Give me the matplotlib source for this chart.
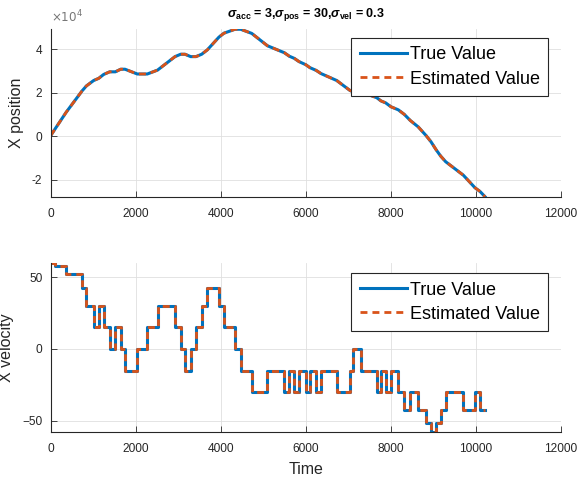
"""
Kalman filter tracking result: true vs estimated X position / velocity.
"""
import matplotlib
matplotlib.use("Agg")
import matplotlib.pyplot as plt
from matplotlib.ticker import FuncFormatter

# time stamps where the motion changes
times = [0, 110, 365, 738, 840, 1011, 1130, 1247, 1388, 1521, 1647, 1748,
         2038, 2273, 2515, 2925, 3059, 3160, 3294, 3419, 3553, 3685, 3960,
         4078, 4337, 4471, 4730, 5100, 5497, 5614, 5732, 5843, 6000, 6102,
         6243, 6360, 6730, 7043, 7106, 7302, 7670, 7772, 7882, 8007, 8179,
         8320, 8461, 8650, 8830, 8948, 9066, 9176, 9294, 9709, 9984, 10102,
         10219]

# X position at those times (x 1e4)
true_pos = [0.02, 0.35, 1.10, 2.08, 2.31, 2.56, 2.66, 2.84, 2.96, 2.96, 3.08,
            3.08, 2.86, 2.86, 3.04, 3.66, 3.77, 3.77, 3.66, 3.66, 3.77, 3.97,
            4.56, 4.74, 4.92, 4.92, 4.73, 4.16, 3.84, 3.68, 3.58, 3.43, 3.29,
            3.15, 3.03, 2.88, 2.56, 2.10, 2.05, 2.03, 1.77, 1.62, 1.53, 1.35,
            1.21, 1.00, 0.72, 0.42, 0.03, -0.26, -0.62, -0.92, -1.18, -1.80,
            -2.38, -2.55, -2.79]
est_pos = true_pos

# X velocity held from each time stamp until the next one
true_vel = [60.0, 58.0, 52.0, 42.4, 30.0, 15.5, 30.0, 15.5, 0.0, 15.5, 0.0,
            -15.5, 0.0, 15.5, 30.0, 15.5, 0.0, -15.5, 0.0, 15.5, 30.0, 42.4,
            30.0, 15.5, 0.0, -15.5, -30.0, -15.5, -30.0, -15.5, -30.0, -15.5,
            -30.0, -15.5, -30.0, -15.5, -30.0, -15.5, 0.0, -15.5, -30.0, -15.5,
            -30.0, -15.5, -30.0, -42.4, -30.0, -42.4, -52.0, -58.0, -52.0,
            -42.4, -30.0, -42.4, -30.0, -42.4, -42.4]
est_vel = true_vel

BLUE = "#0072BD"
ORANGE = "#D95319"
AXC = "#262626"

plt.rcParams["font.family"] = ["Liberation Sans", "DejaVu Sans"]
plt.rcParams["mathtext.fontset"] = "custom"
plt.rcParams["mathtext.rm"] = "Liberation Sans:bold"
plt.rcParams["mathtext.bf"] = "Liberation Sans:bold"
plt.rcParams["mathtext.it"] = "Liberation Sans:italic:bold"

fig = plt.figure(figsize=(5.8, 4.79), dpi=100)
ax1 = fig.add_axes([0.0874, 0.5894, 0.8793, 0.3495])
ax2 = fig.add_axes([0.0874, 0.0981, 0.8793, 0.3534])


def style(ax, yticks):
    for s in ("top", "right"):
        ax.spines[s].set_visible(False)
    for s in ("left", "bottom"):
        ax.spines[s].set_color(AXC)
        ax.spines[s].set_linewidth(0.8)
    ax.set_xlim(0, 12000)
    ax.set_xticks(range(0, 12001, 2000))
    ax.set_yticks(yticks)
    ax.tick_params(direction="in", length=4, width=0.6, colors=AXC,
                   labelsize=8.6, pad=6)
    ax.tick_params(axis="x", pad=8)
    ax.grid(True, color="#dfdfdf", linewidth=0.6)
    ax.set_axisbelow(True)


# top panel: position
ax1.plot(times, [v * 1e4 for v in true_pos], color=BLUE, lw=2.2,
         label="True Value")
ax1.plot(times, [v * 1e4 for v in est_pos], color=ORANGE, lw=2.0,
         dashes=(2.5, 1.8), label="Estimated Value")
style(ax1, [-2e4, 0, 2e4, 4e4])
ax1.set_ylim(min(true_pos) * 1e4, max(true_pos) * 1e4)
ax1.yaxis.set_major_formatter(FuncFormatter(lambda v, p: f"{v / 1e4:g}"))
ax1.text(0.0, 1.025, r"$\times10^{4}$", transform=ax1.transAxes,
         fontsize=8.6, color="#777777", ha="left", va="bottom",
         math_fontfamily="dejavusans")
ax1.set_ylabel("X position", fontsize=11.5, color=AXC, labelpad=6)
ax1.set_title(r"$\sigma_{\mathrm{acc}}$ = 3,$\sigma_{\mathrm{pos}}$ = 30,"
              r"$\sigma_{\mathrm{vel}}$ = 0.3",
              fontsize=9, fontweight="bold", color="black", pad=9)

# bottom panel: velocity
ax2.step(times, true_vel, where="post", color=BLUE, lw=2.2,
         label="True Value")
ax2.step(times, est_vel, where="post", color=ORANGE, lw=2.0,
         dashes=(2.5, 1.8), label="Estimated Value")
style(ax2, [-50, 0, 50])
ax2.set_ylim(min(true_vel), max(true_vel))
ax2.set_ylabel("X velocity", fontsize=11.5, color=AXC, labelpad=6)
ax2.set_xlabel("Time", fontsize=11.5, color=AXC, labelpad=5)

for ax, top in ((ax1, 0.946), (ax2, 0.937)):
    leg = ax.legend(loc="upper right", bbox_to_anchor=(0.9757, top),
                    borderaxespad=0, fontsize=13, fancybox=False,
                    framealpha=1, edgecolor="#262626", handlelength=2.6,
                    handletextpad=0.2, labelspacing=0.4, borderpad=0.45)
    leg.get_frame().set_linewidth(0.8)

fig.savefig("out.png", dpi=100)
